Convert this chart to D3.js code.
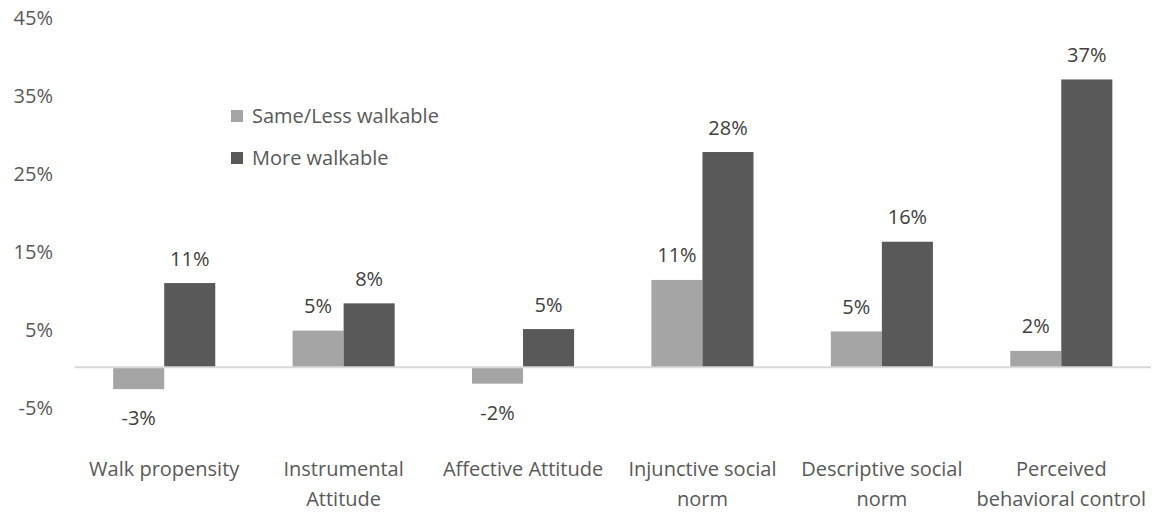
<!DOCTYPE html>
<html>
<head>
<meta charset="utf-8">
<script src="https://cdn.jsdelivr.net/npm/d3@7"></script>
<style>
  html, body { margin: 0; padding: 0; background: #fff; }
  svg text { font-family: "Open Sans", sans-serif; }
</style>
</head>
<body>
<svg id="chart" width="1160" height="512"></svg>
<script>
// Change in attitudes by neighbourhood walkability (percent)
const categories = [
  "Walk propensity",
  "Instrumental\nAttitude",
  "Affective Attitude",
  "Injunctive social\nnorm",
  "Descriptive social\nnorm",
  "Perceived\nbehavioral control"
];
const seriesNames = ["Same/Less walkable", "More walkable"];
const sameLessValues = [-2.8, 4.7, -2.1, 11.2, 4.6, 2.1];
const moreValues = [10.8, 8.2, 4.9, 27.6, 16.1, 36.9];
const yTicks = [-5, 5, 15, 25, 35, 45];
const seriesColors = ["#A5A5A5", "#595959"];

const svg = d3.select("#chart");
const plot = { left: 74.5, right: 1151, top: 16.3, bottom: 406.3 };

const x0 = d3.scaleBand()
  .domain(categories)
  .range([plot.left, plot.right])
  .paddingInner(0.431)
  .paddingOuter(0.2155);

const x1 = d3.scaleBand()
  .domain(seriesNames)
  .range([0, x0.bandwidth()]);

const y = d3.scaleLinear()
  .domain([-5, 45])
  .range([plot.bottom, plot.top]);

// Percent labels with a plain hyphen for negatives
const locale = d3.formatLocale({ decimal: ".", thousands: ",", grouping: [3], currency: ["", ""], minus: "-" });
const fmt = v => locale.format(".0f")(v) + "%";

// Y axis labels (no axis line, no ticks)
const yAxis = d3.axisLeft(y).tickValues(yTicks).tickFormat(fmt).tickSize(0).tickPadding(0);
const yG = svg.append("g").attr("transform", "translate(53,0)").call(yAxis);
yG.select(".domain").remove();
yG.selectAll("text")
  .attr("fill", "#595959")
  .attr("font-size", 20)
  .attr("font-family", "Open Sans, sans-serif")
  .attr("dy", null)
  .attr("y", 8.5);

// Bars
const rows = categories.map((c, i) => ({
  cat: c,
  vals: [
    { s: seriesNames[0], v: sameLessValues[i], color: seriesColors[0] },
    { s: seriesNames[1], v: moreValues[i], color: seriesColors[1] }
  ]
}));

const groups = svg.append("g").selectAll("g")
  .data(rows)
  .join("g")
  .attr("transform", d => `translate(${x0(d.cat)},0)`);

groups.selectAll("rect")
  .data(d => d.vals)
  .join("rect")
  .attr("x", d => x1(d.s))
  .attr("width", x1.bandwidth())
  .attr("y", d => y(Math.max(0, d.v)))
  .attr("height", d => Math.abs(y(d.v) - y(0)))
  .attr("fill", d => d.color);

// Value labels
groups.selectAll("text.val")
  .data(d => d.vals)
  .join("text")
  .attr("class", "val")
  .attr("x", d => x1(d.s) + x1.bandwidth() / 2)
  .attr("y", d => d.v >= 0 ? y(d.v) - 17.5 : y(d.v) + 36)
  .attr("text-anchor", "middle")
  .attr("font-size", 20)
  .attr("fill", "#404040")
  .text(d => fmt(d.v));

// Zero baseline
svg.append("line")
  .attr("x1", plot.left)
  .attr("x2", plot.right)
  .attr("y1", y(0))
  .attr("y2", y(0))
  .attr("stroke", "#D9D9D9")
  .attr("stroke-width", 2);

// Category labels
const catG = svg.append("g");
categories.forEach(c => {
  const t = catG.append("text")
    .attr("text-anchor", "middle")
    .attr("font-size", 20)
    .attr("fill", "#595959");
  c.split("\n").forEach((line, i) => {
    t.append("tspan")
      .attr("x", x0(c) + x0.bandwidth() / 2)
      .attr("y", 476 + i * 29.5)
      .text(line);
  });
});

// Legend
const legend = svg.append("g").attr("transform", "translate(231,110)");
seriesNames.forEach((name, i) => {
  const g = legend.append("g").attr("transform", `translate(0,${i * 42})`);
  g.append("rect").attr("width", 12).attr("height", 12).attr("fill", seriesColors[i]);
  g.append("text")
    .attr("x", 21)
    .attr("y", 13)
    .attr("font-size", 20)
    .attr("fill", "#595959")
    .text(name);
});
</script>
</body>
</html>
